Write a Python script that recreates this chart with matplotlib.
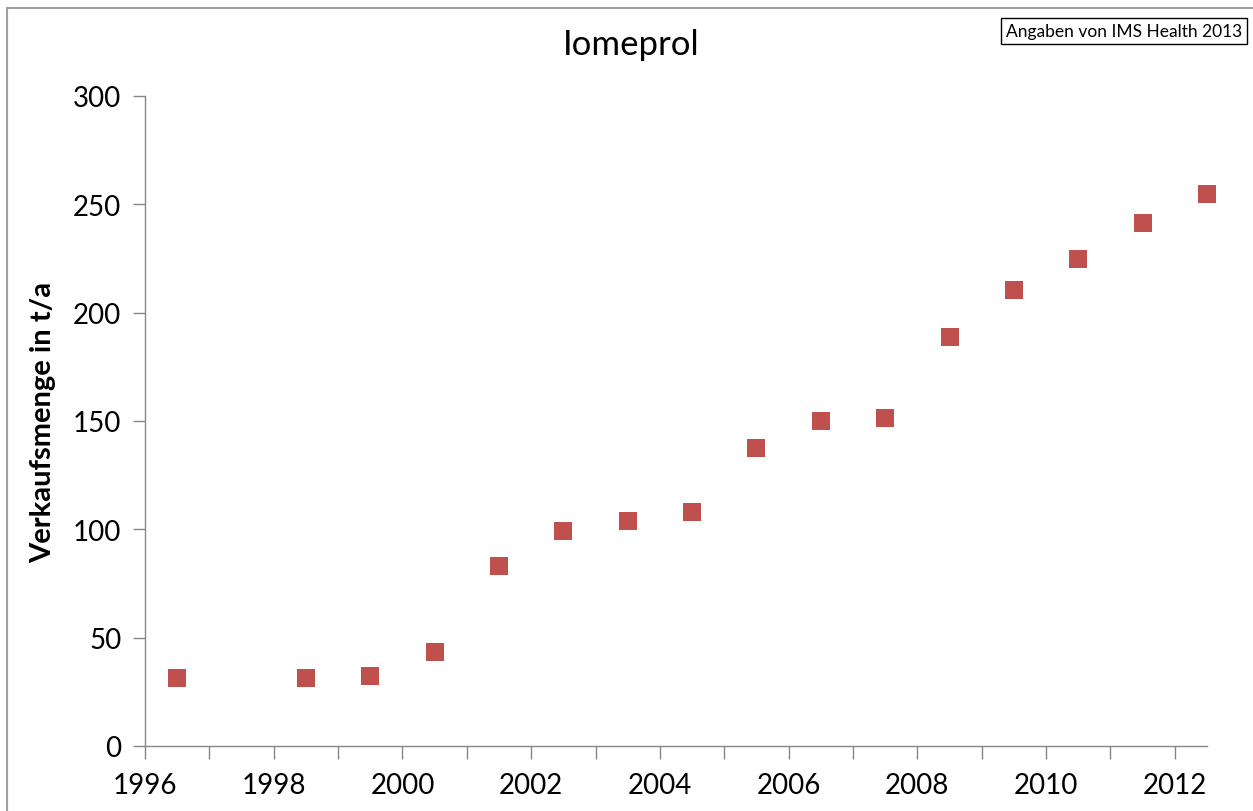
import matplotlib.pyplot as plt
from matplotlib.patches import Rectangle
from matplotlib.ticker import MultipleLocator

plt.rcParams['font.family'] = ['Lato', 'DejaVu Sans']

# Sales of Iomeprol per year
years = [1996.5, 1998.5, 1999.5, 2000.5, 2001.5, 2002.5, 2003.5, 2004.5,
         2005.5, 2006.5, 2007.5, 2008.5, 2009.5, 2010.5, 2011.5, 2012.5]
amounts = [31.4, 31.4, 32.3, 43.4, 83.1, 99.2, 103.8, 108.0,
           137.5, 150.0, 151.4, 188.8, 210.5, 224.8, 241.4, 254.8]
year_ticks = [1996, 1998, 2000, 2002, 2004, 2006, 2008, 2010, 2012]
y_ticks = [0, 50, 100, 150, 200, 250, 300]

fig = plt.figure(figsize=(12.53, 8.12), dpi=100)
ax = fig.add_axes([145 / 1253, 1 - 747 / 812, (1207 - 145) / 1253, (747 - 97) / 812])

ax.plot(years, amounts, 's', color='#C0504D', markersize=13, markeredgewidth=0,
        clip_on=False, zorder=5)

ax.set_xlim(1996, 2012.5)
ax.set_ylim(0, 300)
ax.set_xticks(year_ticks)
ax.xaxis.set_minor_locator(MultipleLocator(1))
ax.set_yticks(y_ticks)

axis_grey = '#868686'
for side in ['top', 'right']:
    ax.spines[side].set_visible(False)
for side in ['left', 'bottom']:
    ax.spines[side].set_color(axis_grey)
    ax.spines[side].set_linewidth(1.0)
ax.tick_params(which='both', direction='out', color=axis_grey, width=1.0)
ax.tick_params(axis='x', which='both', length=9, labelsize=20, pad=10)
ax.tick_params(axis='y', length=9, labelsize=20, pad=8)
ax.tick_params(axis='x', which='minor', labelbottom=False)

ax.set_ylabel('Verkaufsmenge in t/a', fontsize=21, fontweight='bold', labelpad=12)
fig.text(631 / 1253, 1 - 45 / 812, 'Iomeprol', fontsize=25, ha='center', va='center')

# outer chart frame
fig.patches.append(Rectangle((7 / 1253, -0.05), 1.1, 1 - 9 / 812 + 0.05,
                             transform=fig.transFigure, fill=False,
                             edgecolor='#A0A0A0', linewidth=1.5))

# source box
fig.text(1124 / 1253, 1 - 32 / 812, 'Angaben von IMS Health 2013', fontsize=12.5,
         ha='center', va='center',
         bbox=dict(boxstyle='square,pad=0.3', facecolor='white', edgecolor='black', linewidth=1))

fig.savefig('out.png', dpi=100)
